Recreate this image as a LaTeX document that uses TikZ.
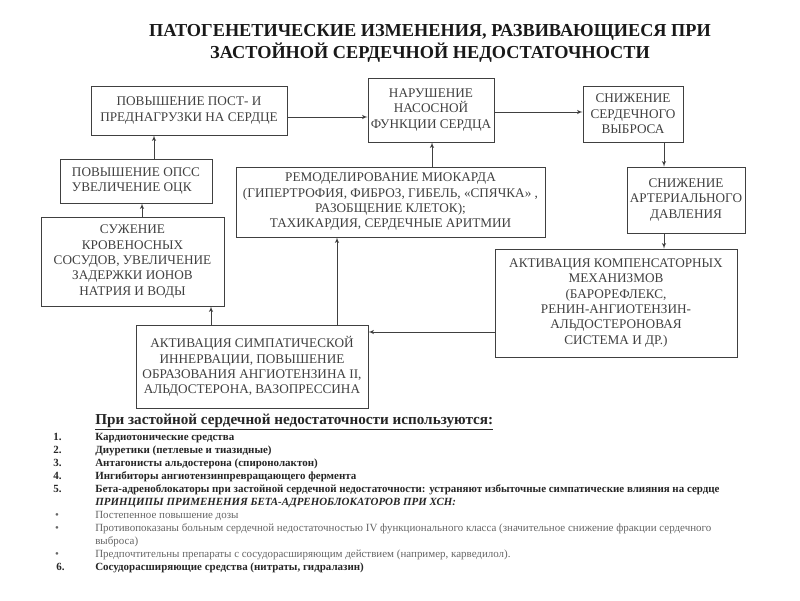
\documentclass[tikz,border=0pt]{standalone}
\usepackage{fontspec}
\setmainfont{Liberation Serif}
\usepackage{tikz}
\usetikzlibrary{arrows}
\usetikzlibrary{positioning}
\definecolor{mgray}{rgb}{0.25, 0.25, 0.25}
\definecolor{lgray}{rgb}{0.4, 0.4, 0.4}
\tikzset{
  box/.style={draw=mgray, text=mgray, align=center, inner sep=1pt,
    font=\fontsize{9.4}{10.9}\selectfont},
  arw/.style={draw=mgray, -latex'},
  lst/.style={anchor=base west, inner sep=0pt, text=black!85,
    font=\fontsize{7.8}{9.4}\selectfont\bfseries},
  lsr/.style={anchor=base west, inner sep=0pt, text=lgray,
    font=\fontsize{7.8}{9.4}\selectfont},
}

\begin{document}
\begin{tikzpicture}
    \useasboundingbox (0, 0) rectangle (20, 15);
    \fill [white] (0, 0) rectangle (20, 15);

    \node (title) at (10.75, 13.92) [align=center, text=black!90,
      font=\fontsize{13}{15.8}\selectfont\bfseries]
      {ПАТОГЕНЕТИЧЕСКИЕ ИЗМЕНЕНИЯ, РАЗВИВАЮЩИЕСЯ ПРИ\\ЗАСТОЙНОЙ СЕРДЕЧНОЙ НЕДОСТАТОЧНОСТИ};

    % boxes of the scheme
    \node [box, minimum width=4.9cm, minimum height=1.225cm] (load) at (4.725, 12.2375)
      {ПОВЫШЕНИЕ ПОСТ- И\\ПРЕДНАГРУЗКИ НА СЕРДЦЕ};
    \node [box, minimum width=3.15cm, minimum height=1.6cm] (pump) at (10.775, 12.25)
      {НАРУШЕНИЕ\\НАСОСНОЙ\\ФУНКЦИИ СЕРДЦА};
    \node [box, minimum width=2.5cm, minimum height=1.4cm] (output) at (15.825, 12.15)
      {СНИЖЕНИЕ\\СЕРДЕЧНОГО\\ВЫБРОСА};
    \node [box, minimum width=2.95cm, minimum height=1.65cm] (pressure) at (17.15, 10.0)
      {СНИЖЕНИЕ\\АРТЕРИАЛЬНОГО\\ДАВЛЕНИЯ};
    \node [box, minimum width=6.05cm, minimum height=2.7cm] (comp) at (15.4, 7.425)
      {АКТИВАЦИЯ КОМПЕНСАТОРНЫХ\\МЕХАНИЗМОВ\\(БАРОРЕФЛЕКС,\\РЕНИН-АНГИОТЕНЗИН-\\АЛЬДОСТЕРОНОВАЯ\\СИСТЕМА И ДР.)};
    \node [box, align=left, minimum width=3.8cm, minimum height=1.1cm] (opss) at (3.4, 10.475)
      {ПОВЫШЕНИЕ ОПСС\\УВЕЛИЧЕНИЕ ОЦК};
    \node [box, minimum width=7.725cm, minimum height=1.75cm] (remod) at (9.7625, 9.95)
      {РЕМОДЕЛИРОВАНИЕ МИОКАРДА\\(ГИПЕРТРОФИЯ, ФИБРОЗ, ГИБЕЛЬ, «СПЯЧКА» ,\\РАЗОБЩЕНИЕ КЛЕТОК);\\ТАХИКАРДИЯ, СЕРДЕЧНЫЕ АРИТМИИ};
    \node [box, minimum width=4.575cm, minimum height=2.225cm] (vessels) at (3.3125, 8.4625)
      {СУЖЕНИЕ\\КРОВЕНОСНЫХ\\СОСУДОВ, УВЕЛИЧЕНИЕ\\ЗАДЕРЖКИ ИОНОВ\\НАТРИЯ И ВОДЫ};
    \node [box, minimum width=5.8cm, minimum height=2.075cm] (symp) at (6.3, 5.8375)
      {АКТИВАЦИЯ СИМПАТИЧЕСКОЙ\\ИННЕРВАЦИИ, ПОВЫШЕНИЕ\\ОБРАЗОВАНИЯ АНГИОТЕНЗИНА II,\\АЛЬДОСТЕРОНА, ВАЗОПРЕССИНА};

    % where the arrows run
    \coordinate (yload) at (0, 12.075);
    \coordinate (ypump) at (0, 12.2);
    \coordinate (ycomp) at (0, 6.7);
    \coordinate (xout) at (16.6, 0);
    \coordinate (xremod) at (10.8, 0);
    \coordinate (xsymp) at (8.425, 0);
    \coordinate (xvess) at (5.275, 0);
    \coordinate (xopss) at (3.55, 0);
    \coordinate (xload) at (3.85, 0);

    \draw [arw] (load.east |- yload) -- (pump.west |- yload);
    \draw [arw] (pump.east |- ypump) -- (output.west |- ypump);
    \draw [arw] (output.south -| xout) -- (pressure.north -| xout);
    \draw [arw] (pressure.south -| xout) -- (comp.north -| xout);
    \draw [arw] (comp.west |- ycomp) -- (symp.east |- ycomp);
    \draw [arw] (symp.north -| xsymp) -- (remod.south -| xsymp);
    \draw [arw] (symp.north -| xvess) -- (vessels.south -| xvess);
    \draw [arw] (vessels.north -| xopss) -- (opss.south -| xopss);
    \draw [arw] (opss.north -| xload) -- (load.south -| xload);
    \draw [arw] (remod.north -| xremod) -- (pump.south -| xremod);

    % list of drugs
    \node [lst, font=\fontsize{10.8}{12}\selectfont\bfseries] (head) at (2.375, 4.40)
      {\underline{При застойной сердечной недостаточности используются:}};
    \node [lst] (n1) at (1.325, 4.0) {1.};
    \node [lst] (t1) at (2.375, 4.0) {Кардиотонические средства};
    \node [lst] (n2) at (1.325, 3.67) {2.};
    \node [lst] (t2) at (2.375, 3.67) {Диуретики (петлевые и тиазидные)};
    \node [lst] (n3) at (1.325, 3.34) {3.};
    \node [lst] (t3) at (2.375, 3.34) {Антагонисты альдостерона (спиронолактон)};
    \node [lst] (n4) at (1.325, 3.01) {4.};
    \node [lst] (t4) at (2.375, 3.01) {Ингибиторы ангиотензинпревращающего фермента};
    \node [lst] (n5) at (1.325, 2.68) {5.};
    \node [lst] (t5) at (2.375, 2.68)
      {Бета-адреноблокаторы при застойной сердечной недостаточности: устраняют избыточные симпатические влияния на сердце};
    \node [lst, font=\fontsize{7.8}{9.4}\selectfont\bfseries\itshape] (t5a) at (2.375, 2.36)
      {ПРИНЦИПЫ ПРИМЕНЕНИЯ БЕТА-АДРЕНОБЛОКАТОРОВ ПРИ ХСН:};
    \node [lsr] (b1) at (1.37, 2.04) {•};
    \node [lsr] (s1) at (2.375, 2.04) {Постепенное повышение дозы};
    \node [lsr] (b2) at (1.37, 1.71) {•};
    \node [lsr] (s2) at (2.375, 1.71)
      {Противопоказаны больным сердечной недостаточностью IV функционального класса (значительное снижение фракции сердечного};
    \node [lsr] (s2a) at (2.375, 1.39) {выброса)};
    \node [lsr] (b3) at (1.37, 1.06) {•};
    \node [lsr] (s3) at (2.375, 1.06)
      {Предпочтительны препараты с сосудорасширяющим действием (например, карведилол).};
    \node [lst] (n6) at (1.4, 0.73) {6.};
    \node [lst] (t6) at (2.375, 0.73) {Сосудорасширяющие средства (нитраты, гидралазин)};
  \end{tikzpicture}
\end{document}
